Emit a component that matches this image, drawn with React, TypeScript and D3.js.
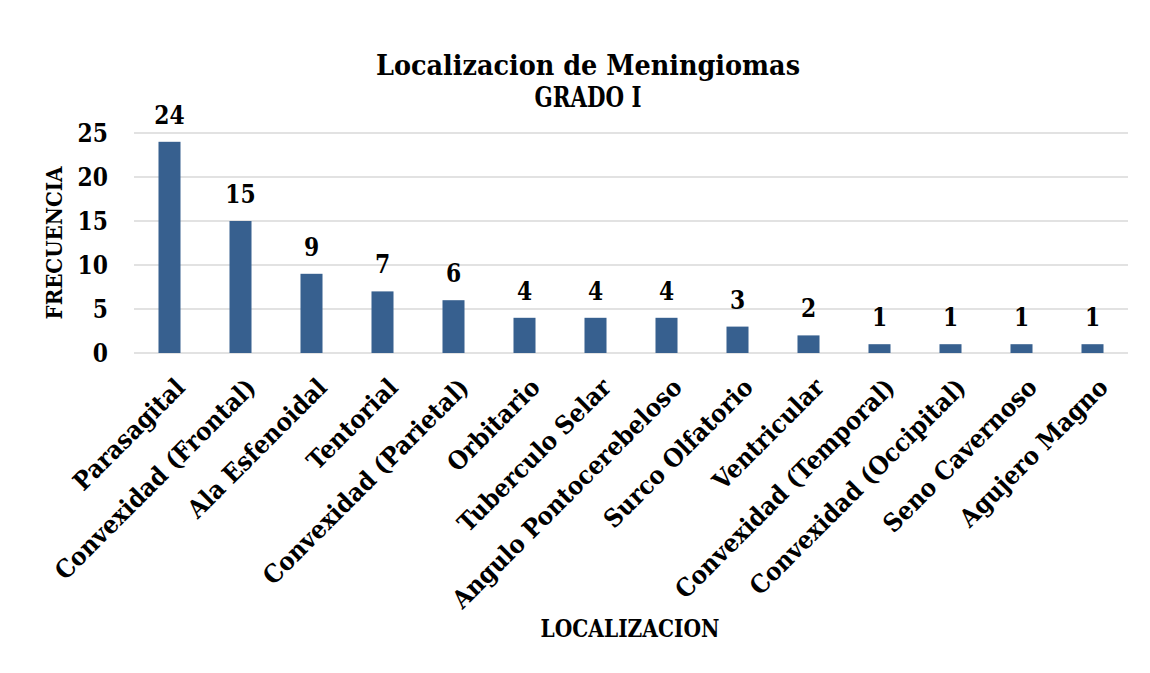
import * as d3 from 'd3';
import React, { useRef, useEffect } from 'react';

const categories = [
    "Parasagital", "Convexidad (Frontal)", "Ala Esfenoidal", "Tentorial",
    "Convexidad (Parietal)", "Orbitario", "Tuberculo Selar", "Angulo Pontocerebeloso",
    "Surco Olfatorio", "Ventricular", "Convexidad (Temporal)", "Convexidad (Occipital)",
    "Seno Cavernoso", "Agujero Magno"
];
const frecuencia = [24, 15, 9, 7, 6, 4, 4, 4, 3, 2, 1, 1, 1, 1];
const yTicks = [0, 5, 10, 15, 20, 25];
const titleLines = ["Localizacion de Meningiomas", "GRADO I"];

const W = 1150, H = 673;
const FONT = "'DejaVu Serif', serif";

function BarChart() {
    const ref = useRef(null);

    useEffect(() => {
        const svg = d3.select(ref.current);
        svg.selectAll("*").remove();

        const left = 134, right = 1128, top = 133, bottom = 353;

        const x = d3.scaleBand()
            .domain(categories)
            .range([left, right])
            .paddingInner(0.69)
            .paddingOuter(0.345);
        const y = d3.scaleLinear().domain([0, 25]).range([bottom, top]);

        // chart frame (only the top and left edges are inside the picture)
        svg.append("rect")
            .attr("x", 5).attr("y", 4.5)
            .attr("width", W + 20).attr("height", H + 20)
            .attr("fill", "white")
            .attr("stroke", "#d4d4d4").attr("stroke-width", 2);

        // gridlines
        svg.append("g").selectAll("line").data(yTicks).join("line")
            .attr("x1", left).attr("x2", right)
            .attr("y1", d => y(d)).attr("y2", d => y(d))
            .attr("stroke", "#d9d9d9").attr("stroke-width", 1.5);

        // y tick labels
        svg.append("g").selectAll("text").data(yTicks).join("text")
            .attr("x", 108).attr("y", d => y(d))
            .attr("dy", "0.36em")
            .attr("text-anchor", "end")
            .attr("font-size", 26)
            .attr("data-k", 0.84)
            .text(d => d);

        // bars
        svg.append("g").selectAll("rect").data(frecuencia).join("rect")
            .attr("x", (d, i) => x(categories[i]))
            .attr("y", d => y(d))
            .attr("width", x.bandwidth())
            .attr("height", d => y(0) - y(d))
            .attr("fill", "#37608f");

        // value labels
        svg.append("g").selectAll("text").data(frecuencia).join("text")
            .attr("x", (d, i) => x(categories[i]) + x.bandwidth() / 2)
            .attr("y", d => y(d) - 18)
            .attr("text-anchor", "middle")
            .attr("font-size", 26)
            .attr("data-k", 0.84)
            .text(d => d);

        // category labels
        svg.append("g").selectAll("text").data(categories).join("text")
            .attr("transform", d => `translate(${x(d) + x.bandwidth() / 2 + 17}, 389) rotate(-45)`)
            .attr("text-anchor", "end")
            .attr("font-size", 25)
            .attr("data-k", 0.92)
            .text(d => d);

        // title
        svg.append("g").selectAll("text").data(titleLines).join("text")
            .attr("x", 588)
            .attr("y", (d, i) => 75 + i * 32)
            .attr("text-anchor", "middle")
            .attr("font-size", 28)
            .attr("data-w", (d, i) => i === 0 ? 424 : 107)
            .text(d => d);

        // axis titles
        svg.append("text")
            .attr("x", 630).attr("y", 637)
            .attr("text-anchor", "middle")
            .attr("font-size", 24)
            .attr("data-w", 179)
            .text("LOCALIZACION");

        svg.append("text")
            .attr("transform", "translate(62, 243) rotate(-90)")
            .attr("text-anchor", "middle")
            .attr("font-size", 23)
            .attr("data-w", 153)
            .text("FRECUENCIA");

        // condense text to match the reference widths
        svg.selectAll("text")
            .attr("font-family", FONT)
            .attr("font-weight", "bold")
            .attr("fill", "#000")
            .each(function () {
                const t = d3.select(this);
                const len = this.getComputedTextLength();
                const w = t.attr("data-w");
                const k = t.attr("data-k");
                if (w) t.attr("textLength", +w).attr("lengthAdjust", "spacingAndGlyphs");
                else if (k) t.attr("textLength", len * +k).attr("lengthAdjust", "spacingAndGlyphs");
            });
    }, []);

    return (
        <svg ref={ref} width={W} height={H} style={{ display: "block" }}></svg>
    );
}

export default function App() {
    return (
        <div style={{ margin: -8 }}>
            <BarChart />
        </div>
    );
}
